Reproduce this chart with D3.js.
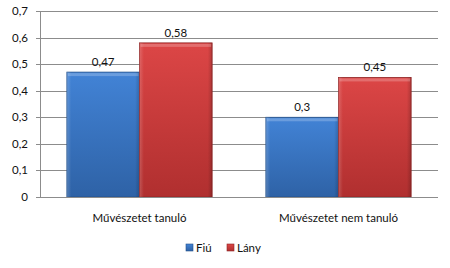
<!DOCTYPE html>
<html>
<head>
<meta charset="utf-8">
<script src="https://cdn.jsdelivr.net/npm/d3@7"></script>
<style>
  body { margin: 0; background: #fff; }
  svg text { font-family: Lato, "Open Sans", sans-serif; fill: #111; }
</style>
</head>
<body>
<svg id="chart" width="450" height="268"></svg>
<script>
// Data
const categories = ["Művészetet tanuló", "Művészetet nem tanuló"]
const seriesNames = ["Fiú", "Lány"]
const fiuValues = [0.47, 0.3]
const lanyValues = [0.58, 0.45]
const yTicks = [0, 0.1, 0.2, 0.3, 0.4, 0.5, 0.6, 0.7]

// top, bottom, border
const colors = {"Fiú": ["#4283d6", "#2e62a6", "#24508a"], "Lány": ["#dc4646", "#b02f2f", "#8e2424"]}

const svg = d3.select("#chart")
const margin = {left: 40, right: 12, top: 11, bottom: 71}
const width = 450 - margin.left - margin.right
const height = 268 - margin.top - margin.bottom

const defs = svg.append("defs")
seriesNames.forEach(function(s, i){
    const c = colors[s]
    const g = defs.append("linearGradient").attr("id", "grad-" + i)
        .attr("x1", 0).attr("x2", 0).attr("y1", 0).attr("y2", 1)
    g.append("stop").attr("offset", "0%").attr("stop-color", c[0])
    g.append("stop").attr("offset", "100%").attr("stop-color", c[1])
    const h = defs.append("linearGradient").attr("id", "side-" + i)
        .attr("x1", 0).attr("x2", 1).attr("y1", 0).attr("y2", 0)
    h.append("stop").attr("offset", "0%").attr("stop-color", "#fff").attr("stop-opacity", 0.18)
    h.append("stop").attr("offset", "6%").attr("stop-color", "#fff").attr("stop-opacity", 0)
    h.append("stop").attr("offset", "94%").attr("stop-color", "#000").attr("stop-opacity", 0)
    h.append("stop").attr("offset", "100%").attr("stop-color", "#000").attr("stop-opacity", 0.18)
})

const chart = svg.append("g").attr("transform", "translate(" + margin.left + "," + margin.top + ")")

const x0 = d3.scaleBand().domain(categories).range([0, width]).paddingInner(0.27).paddingOuter(0.135)
const x1 = d3.scaleBand().domain(seriesNames).range([0, x0.bandwidth()])
const y = d3.scaleLinear().domain([0, 0.7]).range([height, 0])

// gridlines
chart.append("g")
    .selectAll("line")
    .data(yTicks)
    .join("line")
    .attr("x1", -4).attr("x2", width)
    .attr("y1", d => Math.round(y(d)) + 0.5).attr("y2", d => Math.round(y(d)) + 0.5)
    .attr("stroke", "#8c8c8c")

// y axis line
chart.append("line")
    .attr("x1", 0.5).attr("x2", 0.5)
    .attr("y1", y(0.7)).attr("y2", y(0))
    .attr("stroke", "#8c8c8c")

// y labels
chart.append("g")
    .selectAll("text")
    .data(yTicks)
    .join("text")
    .attr("x", -12)
    .attr("y", d => y(d))
    .attr("dy", "0.35em")
    .attr("text-anchor", "end")
    .attr("font-size", 11.5)
    .text(d => d3.format(".1~f")(d).replace(".", ","))

// bars
const rows = categories.map((c, i) => ({cat: c, vals: [fiuValues[i], lanyValues[i]]}))
const groups = chart.selectAll(".grp")
    .data(rows)
    .join("g")
    .attr("transform", d => "translate(" + x0(d.cat) + ",0)")

groups.each(function(d){
    const g = d3.select(this)
    d.vals.forEach(function(v, i){
        const s = seriesNames[i]
        const bx = x1(s), bw = x1.bandwidth(), by = y(v), bh = y(0) - y(v)
        g.append("rect").attr("x", bx).attr("y", by).attr("width", bw).attr("height", bh)
            .attr("fill", "url(#grad-" + i + ")")
            .attr("stroke", colors[s][2]).attr("stroke-width", 0.8)
        g.append("rect").attr("x", bx).attr("y", by).attr("width", bw).attr("height", bh)
            .attr("fill", "url(#side-" + i + ")")
        // bevel on top edge
        g.append("rect").attr("x", bx + 1).attr("y", by + 1).attr("width", bw - 2).attr("height", 3)
            .attr("fill", "#fff").attr("opacity", 0.22)
        g.append("text")
            .attr("x", bx + bw / 2).attr("y", by - 6)
            .attr("text-anchor", "middle").attr("font-size", 11.5)
            .text(String(v).replace(".", ","))
    })
})

// x axis line
chart.append("line")
    .attr("x1", 0).attr("x2", width)
    .attr("y1", Math.round(y(0)) + 0.5).attr("y2", Math.round(y(0)) + 0.5)
    .attr("stroke", "#8c8c8c")

// category labels
chart.append("g")
    .selectAll("text")
    .data(categories)
    .join("text")
    .attr("x", d => x0(d) + x0.bandwidth() / 2)
    .attr("y", height + 21)
    .attr("dy", "0.35em")
    .attr("text-anchor", "middle")
    .attr("font-size", 11.5)
    .text(d => d)

// legend
const legend = svg.append("g").attr("transform", "translate(186,248)")
const legendX = [0, 41]
seriesNames.forEach(function(s, i){
    const lg = legend.append("g").attr("transform", "translate(" + legendX[i] + ",0)")
    lg.append("rect").attr("x", 0).attr("y", -4).attr("width", 7).attr("height", 7)
        .attr("fill", "url(#grad-" + i + ")").attr("stroke", colors[s][2]).attr("stroke-width", 0.6)
    lg.append("text").attr("x", 10).attr("y", 0).attr("dy", "0.35em")
        .attr("font-size", 11.5).text(s)
})
</script>
</body>
</html>
